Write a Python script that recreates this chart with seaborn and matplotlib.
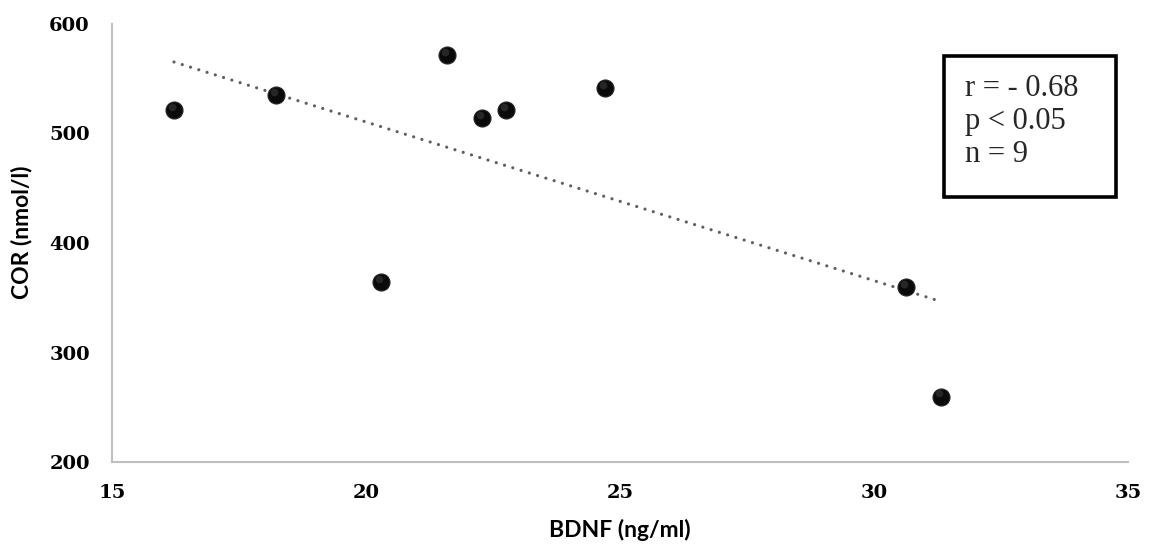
import numpy as np
import pandas as pd
import matplotlib
matplotlib.use("Agg")
import matplotlib.pyplot as plt
from matplotlib.patches import Rectangle
from matplotlib.font_manager import FontProperties
import seaborn as sns

# BDNF vs cortisol measurements
bdnf = [16.22, 18.23, 20.30, 21.60, 22.29, 22.76, 24.70, 30.63, 31.31]
cor = [521.5, 535.0, 364.0, 571.7, 513.9, 521.5, 541.5, 359.8, 259.6]
x_ticks = [15, 20, 25, 30, 35]
y_ticks = [200, 300, 400, 500, 600]
stats_lines = ["r = - 0.68", "p < 0.05", "n = 9"]

df = pd.DataFrame({"BDNF": bdnf, "COR": cor})

sns.set_theme(style="white")
plt.rcParams["font.family"] = ["DejaVu Sans"]

fig = plt.figure(figsize=(11.58, 5.44), dpi=100)
ax = fig.add_axes([112 / 1158, 1 - 462 / 544, (1128 - 112) / 1158, (462 - 24) / 544])

# linear trend line, dotted, over the data range
sns.regplot(data=df, x="BDNF", y="COR", ax=ax, scatter=False, ci=None,
            truncate=True,
            line_kws=dict(color="#5f5f5f", linestyle=(0, (0.01, 2.7)), linewidth=2.3,
                          dash_capstyle="round", zorder=2))

# spherical markers
sns.scatterplot(data=df, x="BDNF", y="COR", ax=ax, s=150, color="#0a0a0a",
                edgecolor="#262626", linewidth=0.8, zorder=3, legend=False)
ax.scatter(np.array(bdnf) - 0.04, np.array(cor) + 3.0, s=30, color="#3a3a3a",
           linewidth=0, zorder=4, alpha=0.6)

ax.set_xlim(15, 35)
ax.set_ylim(200, 600)
ax.set_xticks(x_ticks)
ax.set_yticks(y_ticks)
ax.set_xticklabels([str(t) for t in x_ticks])
ax.set_yticklabels([str(t) for t in y_ticks])
ax.tick_params(axis="both", length=0)
ax.tick_params(axis="x", pad=16)
ax.tick_params(axis="y", pad=16)

tick_fp = FontProperties(family="DejaVu Serif", weight="bold", size=14)
for lab in ax.get_xticklabels() + ax.get_yticklabels():
    lab.set_fontproperties(tick_fp)
    lab.set_color("black")

label_fp = FontProperties(family="Lato", weight="bold", size=16.5)
ax.set_xlabel("BDNF (ng/ml)", fontproperties=label_fp, color="black")
ax.set_ylabel("COR (nmol/l)", fontproperties=label_fp, color="black")
ax.xaxis.label.set_va("center")
ax.yaxis.label.set_va("center")
ax.yaxis.label.set_ha("center")
ax.xaxis.set_label_coords(0.5, (462 - 530) / 438)
ax.yaxis.set_label_coords((22 - 112) / 1016, (462 - 232) / 438)

for side in ["top", "right"]:
    ax.spines[side].set_visible(False)
for side in ["left", "bottom"]:
    ax.spines[side].set_color("#BFBFBF")
    ax.spines[side].set_linewidth(1.5)

# statistics box
box = Rectangle((944 / 1158, 1 - 197 / 544), (1116 - 944) / 1158, (197 - 56) / 544,
                transform=fig.transFigure, fill=True, facecolor="white",
                edgecolor="black", linewidth=2.6, zorder=5)
fig.patches.append(box)
for i, line in enumerate(stats_lines):
    fig.text(965 / 1158, 1 - (88 + i * 33.5) / 544, line, family="Liberation Serif",
             size=22, va="center", ha="left", zorder=6)

fig.savefig("out.png", dpi=100)
